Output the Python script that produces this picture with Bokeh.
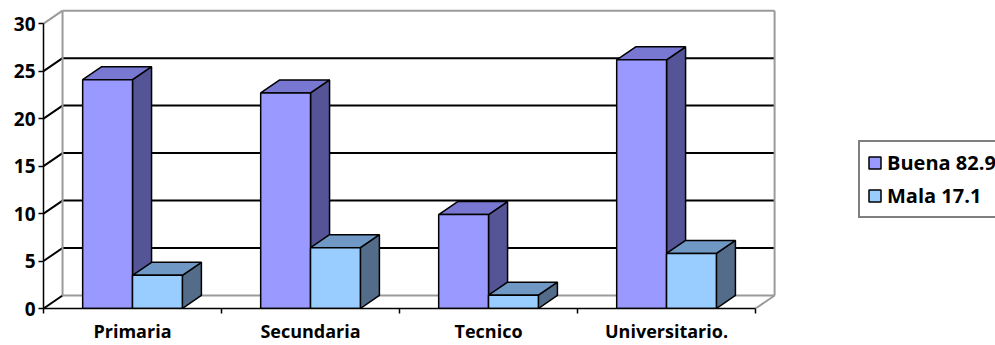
from bokeh.plotting import figure
from bokeh.models import (FixedTicker, LinearAxis, Range1d, Legend, LegendItem)
from bokeh.embed import file_html
from bokeh.resources import INLINE

# Data
categories = ["Primaria", "Secundaria", "Tecnico", "Universitario."]
buena = [24.1, 22.7, 9.9, 26.2]
mala = [3.5, 6.4, 1.4, 5.8]
series_labels = ["Buena 82.9", "Mala 17.1"]
y_ticks = [0, 5, 10, 15, 20, 25, 30]

# 3D look: depth offset of the walls and bar tops (x in category units, y in value units)
DX = 0.107
DY = 1.37
BAR_W = 0.28

FONT = "Open Sans"

p = figure(width=995, height=345, output_backend="svg", toolbar_location=None,
           x_range=Range1d(0, 5.348), y_range=Range1d(0, 31.6),
           x_axis_type=None, y_axis_type=None,
           min_border_left=43, min_border_right=0, min_border_top=8,
           min_border_bottom=37)
p.outline_line_color = None
p.background_fill_color = "white"
p.border_fill_color = "white"
p.grid.visible = False

n = len(categories)

# Back wall horizontal gridlines
inner = [t for t in y_ticks if 0 < t < max(y_ticks)]
p.segment(x0=[DX] * len(inner), y0=[t + DY for t in inner],
          x1=[n + DX] * len(inner), y1=[t + DY for t in inner],
          line_color="black", line_width=2)
# Side wall diagonals at each tick
p.segment(x0=[0] * len(y_ticks[:-1]), y0=y_ticks[:-1],
          x1=[DX] * len(y_ticks[:-1]), y1=[t + DY for t in y_ticks[:-1]],
          line_color="black", line_width=2)
top = max(y_ticks)
# Wall borders (grey)
p.segment(x0=[0, DX, DX, n + DX, DX, n],
          y0=[top, top + DY, DY, DY, DY, 0],
          x1=[DX, n + DX, DX, n + DX, n + DX, n + DX],
          y1=[top + DY, top + DY, top + DY, top + DY, DY, DY],
          line_color="#9a9a9a", line_width=2)


def bar_faces(vals, offset):
    fx, fy, tx, ty, sx, sy = [], [], [], [], [], []
    for i, v in enumerate(vals):
        x0 = i + offset
        x1 = x0 + BAR_W
        fx.append([x0, x1, x1, x0]); fy.append([0, 0, v, v])
        tx.append([x0, x1, x1 + DX, x0 + DX]); ty.append([v, v, v + DY, v + DY])
        sx.append([x1, x1 + DX, x1 + DX, x1]); sy.append([0, DY, v + DY, v])
    return fx, fy, tx, ty, sx, sy


series = [
    (buena, 0.5 - BAR_W, "#9999ff", "#7878d2", "#545496"),
    (mala, 0.5, "#99ccff", "#6f98c4", "#536c8a"),
]
front_renderers = []
for vals, off, cf, ct, cs in series:
    fx, fy, tx, ty, sx, sy = bar_faces(vals, off)
    p.patches(sx, sy, fill_color=cs, line_color="black", line_width=1.5)
    p.patches(tx, ty, fill_color=ct, line_color="black", line_width=1.5)
    r = p.patches(fx, fy, fill_color=cf, line_color="black", line_width=1.5)
    front_renderers.append(r)

# Value axis on the front plane
yaxis = LinearAxis(ticker=FixedTicker(ticks=y_ticks), bounds=(0, top))
yaxis.axis_line_color = "black"
yaxis.axis_line_width = 1.5
yaxis.major_tick_out = 5
yaxis.major_tick_in = 0
yaxis.major_tick_line_width = 1.5
yaxis.minor_tick_line_color = None
yaxis.major_label_standoff = 3
yaxis.major_label_text_font = FONT
yaxis.major_label_text_font_style = "bold"
yaxis.major_label_text_font_size = "19px"
yaxis.major_label_text_color = "black"
p.add_layout(yaxis, "left")

# Category axis: labels centered, tick marks between categories
centers = [i + 0.5 for i in range(n)]
xaxis = LinearAxis(ticker=FixedTicker(ticks=centers, minor_ticks=list(range(n + 1))),
                   bounds=(0, n))
xaxis.major_label_overrides = {c: lab for c, lab in zip(centers, categories)}
xaxis.axis_line_color = "black"
xaxis.axis_line_width = 1.5
xaxis.major_tick_out = 0
xaxis.major_tick_in = 0
xaxis.minor_tick_out = 5
xaxis.minor_tick_in = 0
xaxis.minor_tick_line_width = 1.5
xaxis.minor_tick_line_color = "black"
xaxis.major_label_standoff = 5
xaxis.major_label_text_font = FONT
xaxis.major_label_text_font_style = "bold"
xaxis.major_label_text_font_size = "18px"
xaxis.major_label_text_color = "black"
p.add_layout(xaxis, "below")

legend = Legend(items=[LegendItem(label=series_labels[0], renderers=[front_renderers[0]]),
                       LegendItem(label=series_labels[1], renderers=[front_renderers[1]])],
                location=(815, 90))
legend.border_line_color = "black"
legend.border_line_width = 2
legend.padding = 7
legend.spacing = 6
legend.glyph_width = 15
legend.glyph_height = 15
legend.label_height = 20
legend.label_standoff = 5
legend.label_text_font = FONT
legend.label_text_font_style = "bold"
legend.label_text_font_size = "20px"
legend.label_text_color = "black"
legend.background_fill_color = "white"
legend.margin = 0
p.add_layout(legend, "center")

open("out.html", "w").write(file_html(p, INLINE))
